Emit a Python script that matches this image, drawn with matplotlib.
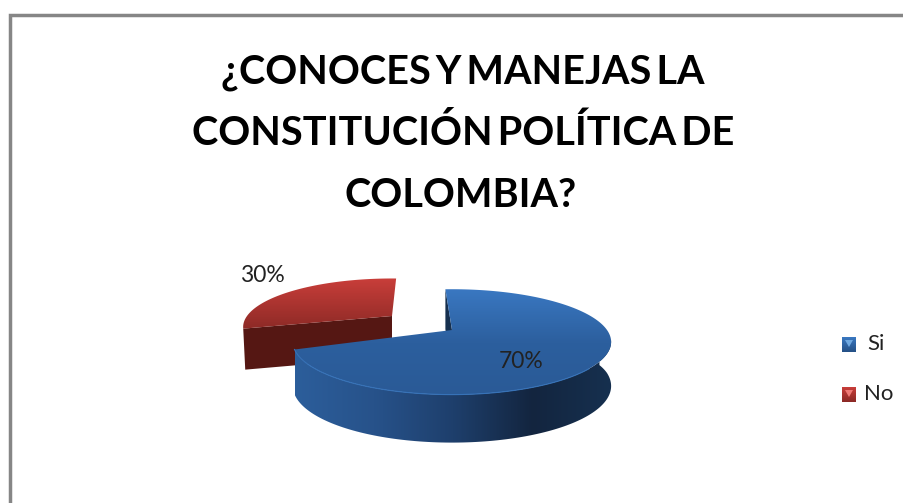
import numpy as np
import matplotlib.pyplot as plt
from matplotlib.colors import LinearSegmentedColormap
from matplotlib.patches import Polygon, Rectangle

# Data
categories = ["Si", "No"]
values = [70, 30]
labels = ["70%", "30%"]
title_lines = ["¿CONOCES Y MANEJAS LA", "CONSTITUCIÓN POLÍTICA DE", "COLOMBIA?"]

# Fake 3D pie settings (pixels, y grows downwards)
persp = 0.226
blue_apex = (452, 330)
red_apex = (392, 316)
blue_size = (155, 50)
red_size = (145, 46)


def disk(apex, size, deg):
    # project angles (clockwise from the back of the pie) on to the tilted disk
    th = np.radians(deg)
    u, v = np.sin(th), np.cos(th)
    s = 1 / (1 + persp * v)
    return apex[0] + size[0] * u * s, apex[1] - size[1] * v * s


def grad(ax, patch, box, colors, horizontal=False, z=2):
    # gradient image clipped to a polygon
    cmap = LinearSegmentedColormap.from_list("g", colors)
    g = np.linspace(0, 1, 256)
    g = g.reshape(1, -1) if horizontal else g.reshape(-1, 1)
    ax.add_patch(patch)
    im = ax.imshow(g, cmap=cmap, extent=box, aspect="auto", zorder=z, origin="upper")
    im.set_clip_path(patch)


fig = plt.figure(figsize=(9.04, 5.03), dpi=100)
ax = fig.add_axes([0, 0, 1, 1])
ax.axis("off")

shares = np.array(values) / sum(values) * 360

# No slice, pulled out of the pie
th_red = np.linspace(shares[0] + 3, 362, 80)
rx, ry = disk(red_apex, red_size, th_red)
red_depth = 41
face = Polygon([(rx[0], ry[0]), red_apex, (red_apex[0], red_apex[1] + red_depth),
                (rx[0] + 2, ry[0] + red_depth)], closed=True, fc="#551713", ec="none", zorder=1)
ax.add_patch(face)
top = Polygon(np.r_[[red_apex], np.c_[rx, ry]], closed=True, fc="none", ec="none")
grad(ax, top, (240, 400, 332, 278), ["#C93E3A", "#8A2925"], z=2)

# Si slice
th_blue = np.linspace(-3, shares[0] - 3, 200)
bx, by = disk(blue_apex, blue_size, th_blue)
# inner cut wall, mostly hidden by the top
ax.add_patch(Polygon([(bx[0], by[0]), blue_apex, (blue_apex[0], blue_apex[1] + 40), (bx[0], by[0] + 40)],
                     closed=True, fc="#16304F", ec="none", zorder=3))
# outer wall
vis = th_blue > 80
wx, wy = bx[vis], by[vis]
depth = 43 + 5 * np.clip(-np.cos(np.radians(th_blue[vis])), 0, 1)
wall = Polygon(np.r_[np.c_[wx, wy], np.c_[wx, wy + depth][::-1]], closed=True, fc="none", ec="none")
grad(ax, wall, (295, 612, 445, 340), ["#2C5E9B", "#27528A", "#1E3F6C", "#13253F", "#16304F"], horizontal=True, z=3)
# top surface
top = Polygon(np.r_[[blue_apex], np.c_[bx, by]], closed=True, fc="none", ec="none")
grad(ax, top, (290, 612, 397, 288), ["#3A78C2", "#2C5F9E", "#2A5A96"], z=4)
front = th_blue > 130
ax.plot(bx[front], by[front], color="#3672B8", lw=0.8, zorder=5)

ax.text(521, 361, labels[0], fontsize=16.5, family="Lato", ha="center", va="center", color="#222222", zorder=6)
ax.text(262, 276, labels[1], fontsize=16.5, family="Lato", ha="center", va="center", color="#222222", zorder=6)

# Title, thin spaces because the original face sets very tight
for line, y, x in zip(title_lines, [83, 145, 207], [463, 463, 461]):
    ax.text(x, y, line.replace(" ", "\u2009"), fontsize=28.5, family="Lato", weight="bold",
            ha="center", va="baseline", color="black")

# Legend
leg_colors = [["#3A78C2", "#245085"], ["#C93E3A", "#8A2925"]]
leg_tri = ["#6FA8E0", "#EE7A76"]
for name, c, t, y, x in zip(categories, leg_colors, leg_tri, [344, 394], [876, 879]):
    box = Rectangle((842, y - 7), 14, 15, fc="none", ec="none")
    grad(ax, box, (842, 856, y + 8, y - 7), c, z=4)
    ax.add_patch(Polygon([(845, y - 4), (853, y - 4), (849, y + 3)], closed=True, fc=t, ec="none", zorder=5))
    ax.text(x, y, name, fontsize=16, family="Lato", ha="center", va="center", color="#222222")

# Chart frame, running off the page on the right and bottom
ax.plot([10.5, 10.5, 904], [503, 14.5, 14.5], color="#868686", lw=2.5, solid_joinstyle="miter", zorder=7)

ax.set_xlim(0, 904)
ax.set_ylim(503, 0)
fig.savefig("out.png", dpi=100)
